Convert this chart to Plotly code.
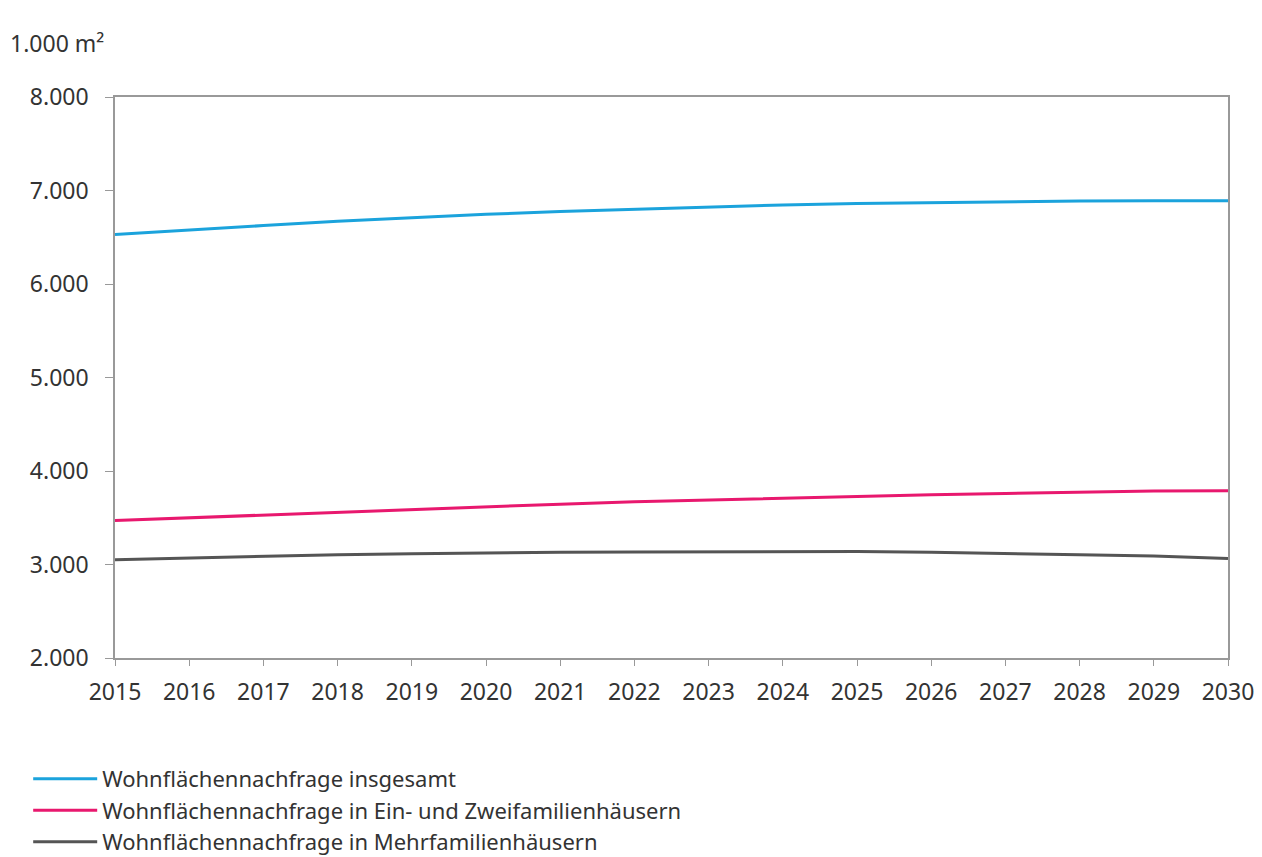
import plotly.graph_objects as go

years = list(range(2015, 2031))
insgesamt = [6530, 6580, 6625, 6670, 6710, 6745, 6775, 6800, 6825, 6845, 6860, 6870, 6880, 6888, 6890, 6890]
ein_zwei = [3470, 3500, 3530, 3560, 3590, 3620, 3645, 3670, 3690, 3710, 3727, 3745, 3760, 3775, 3785, 3790]
mehr = [3050, 3070, 3090, 3105, 3115, 3125, 3130, 3135, 3138, 3140, 3138, 3130, 3120, 3105, 3090, 3065]

names = ["Wohnflächennachfrage insgesamt",
         "Wohnflächennachfrage in Ein- und Zweifamilienhäusern",
         "Wohnflächennachfrage in Mehrfamilienhäusern"]
colors = ["#1ba3dc", "#e8186e", "#555555"]

fig = go.Figure()
for name, vals, c in zip(names, [insgesamt, ein_zwei, mehr], colors):
    fig.add_trace(go.Scatter(x=years, y=vals, mode="lines", name=name,
                             line=dict(color=c, width=3)))

font = "Noto Sans, Open Sans, sans-serif"
fig.update_layout(
    width=1262, height=857,
    margin=dict(l=115, r=34, t=97, b=199, autoexpand=False),
    paper_bgcolor="white", plot_bgcolor="white",
    separators=",.",
    font=dict(family=font, size=23, color="#333333"),
    showlegend=True,
    legend=dict(x=-0.078, y=-0.178, xanchor="left", yanchor="top",
                orientation="v", font=dict(size=22, color="#333333"),
                itemwidth=64, tracegroupgap=0, bgcolor="rgba(0,0,0,0)"),
    xaxis=dict(range=[2015, 2030], tickmode="array", tickvals=years,
               ticktext=[str(y) for y in years], showgrid=False,
               showline=True, linecolor="#999999", linewidth=1.5, mirror=True,
               ticks="outside", ticklen=6, tickcolor="#999999", zeroline=False,
               ticklabelstandoff=7),
    yaxis=dict(range=[2000, 8000], tickmode="array",
               tickvals=[2000, 3000, 4000, 5000, 6000, 7000, 8000],
               tickformat=",d", showgrid=False,
               showline=True, linecolor="#999999", linewidth=1.5, mirror=True,
               ticks="outside", ticklen=8, tickcolor="#999999", zeroline=False,
               ticklabelstandoff=12),
    annotations=[dict(text="1.000 m²", xref="paper", yref="paper",
                      x=-0.096, y=1.065, xanchor="left", yanchor="bottom",
                      showarrow=False, font=dict(size=23, color="#333333"))],
)
fig.write_html("out.html")
